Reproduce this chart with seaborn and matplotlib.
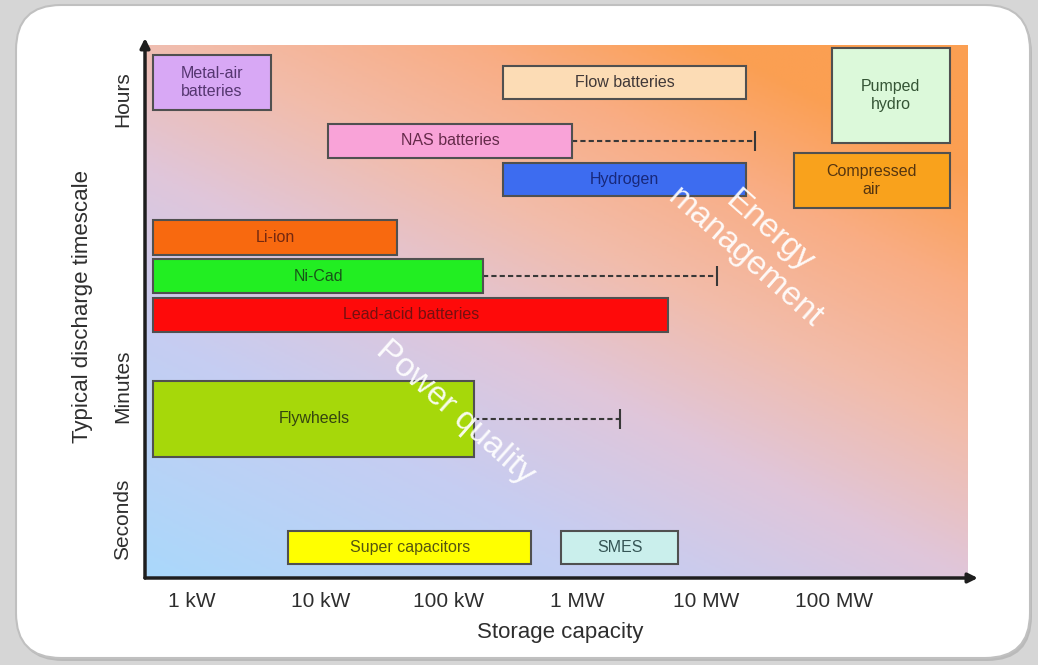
import numpy as np
import pandas as pd
import seaborn as sns
import matplotlib
matplotlib.use('Agg')
import matplotlib.pyplot as plt
from matplotlib.colors import LinearSegmentedColormap
from matplotlib.patches import FancyBboxPatch

# storage technologies: capacity range (kW) and typical discharge timescale (0 = fast, 100 = hours)
technologies = ['Metal-air\nbatteries', 'Flow batteries', 'Pumped\nhydro', 'NAS batteries', 'Hydrogen',
                'Compressed\nair', 'Li-ion', 'Ni-Cad', 'Lead-acid batteries', 'Flywheels',
                'Super capacitors', 'SMES']
cap_low_kw = [0.5, 263, 95000, 11.4, 263, 48000, 0.5, 0.5, 0.5, 0.5, 5.6, 745]
cap_high_kw = [4.1, 20500, 790000, 910, 20500, 790000, 39, 184, 5050, 157, 435, 6050]
time_low = [87.8, 89.9, 81.6, 78.8, 71.7, 69.4, 60.6, 53.5, 46.2, 22.7, 2.6, 2.6]
time_high = [98.1, 96.1, 99.4, 85.2, 77.9, 79.7, 67.2, 59.8, 52.5, 37.0, 8.8, 8.8]

# dashed extensions (possible larger capacity)
ext_tech = ['NAS batteries', 'Ni-Cad', 'Flywheels']
ext_to_kw = [24000, 12200, 2140]

x_ticks_kw = [1, 10, 100, 1e3, 1e4, 1e5]
x_tick_labels = ['1 kW', '10 kW', '100 kW', '1 MW', '10 MW', '100 MW']
y_ticks = [89.9, 36.0, 11.1]
y_tick_labels = ['Hours', 'Minutes', 'Seconds']

face_colors = {
    'Metal-air\nbatteries': '#d8a8f5', 'Flow batteries': '#fcdcb5', 'Pumped\nhydro': '#dcf9da',
    'NAS batteries': '#f9a3d8', 'Hydrogen': '#3d6cf0', 'Compressed\nair': '#f9a21c',
    'Li-ion': '#f8690f', 'Ni-Cad': '#22ee22', 'Lead-acid batteries': '#fe0a0a',
    'Flywheels': '#a6d80a', 'Super capacitors': '#ffff00', 'SMES': '#caefec',
}
text_colors = {
    'Metal-air\nbatteries': '#553670', 'Flow batteries': '#403838', 'Pumped\nhydro': '#355535',
    'NAS batteries': '#652a4a', 'Hydrogen': '#18287a', 'Compressed\nair': '#553510',
    'Li-ion': '#742810', 'Ni-Cad': '#185518', 'Lead-acid batteries': '#741010',
    'Flywheels': '#354510', 'Super capacitors': '#555510', 'SMES': '#355555',
}

df = pd.DataFrame({'tech': technologies, 'lo': cap_low_kw, 'hi': cap_high_kw,
                   'tlo': time_low, 'thi': time_high})
df['tmid'] = (df['tlo'] + df['thi']) / 2

sns.set_theme(style='white')
plt.rcParams['font.family'] = ['Liberation Sans', 'DejaVu Sans']

W, H = 1038, 665
fig = plt.figure(figsize=(W / 100, H / 100), dpi=100)
fig.patch.set_facecolor('#d6d6d6')

# slide-like rounded white panel
bg = fig.add_axes([0, 0, 1, 1], zorder=-2)
bg.set_xlim(0, W)
bg.set_ylim(0, H)
bg.axis('off')
bg.add_patch(FancyBboxPatch((18, 4), 1014, 653, boxstyle='round,pad=0,rounding_size=45',
                            facecolor='#a8a8a8', edgecolor='none', alpha=0.6))
bg.add_patch(FancyBboxPatch((16, 7), 1014, 653, boxstyle='round,pad=0,rounding_size=45',
                            facecolor='white', edgecolor='#c0c0c0', lw=1.5))

rect = [145 / W, 87 / H, 823 / W, 533 / H]

# gradient background of the plot area
grad_ax = fig.add_axes(rect, zorder=-1)
grad_ax.axis('off')
u, v = np.meshgrid(np.linspace(0, 1, 300), np.linspace(0, 1, 200))
t = np.clip(0.5 * u + 0.65 * v, 0, 1)
cmap = LinearSegmentedColormap.from_list('bg', [(0, '#aad8fb'), (0.3, '#c6cdf2'), (0.5, '#e0c6da'),
                                                (0.68, '#f2bcaa'), (0.85, '#f9ad84'), (1, '#fb9f52')])
grad_ax.imshow(cmap(t), extent=[0, 1, 0, 1], origin='lower', aspect='auto')

ax = fig.add_axes(rect)
ax.set_facecolor('none')
ax.set_xscale('log')
ax.set_xlim(0.43, 1.094e6)
ax.set_ylim(0, 100)

for _, r in df.iterrows():
    ax.barh(r['tmid'], r['hi'] - r['lo'], left=r['lo'], height=r['thi'] - r['tlo'],
            color=face_colors[r['tech']], edgecolor='#505050', lw=1.5, zorder=3)
    ax.text(np.sqrt(r['lo'] * r['hi']), r['tmid'], r['tech'], ha='center', va='center',
            fontsize=11.5, color=text_colors[r['tech']], zorder=4, linespacing=1.3)

ext = df.set_index('tech').loc[ext_tech]
for (tech, r), x_end in zip(ext.iterrows(), ext_to_kw):
    sns.lineplot(x=[r['hi'], x_end], y=[r['tmid'], r['tmid']], ax=ax, color='#383838',
                 lw=1.5, linestyle=(0, (2.5, 1.5)), zorder=2)
    ax.plot([x_end], [r['tmid']], marker='|', ms=15, mew=1.5, color='#383838', zorder=2)

ax.text(25000, 62.5, 'Energy\nmanagement', rotation=-41.5, rotation_mode='anchor',
        ha='center', va='center', fontsize=24, color='white', alpha=0.92, zorder=5)
ax.text(112, 31.1, 'Power quality', rotation=-41.5, rotation_mode='anchor',
        ha='center', va='center', fontsize=24, color='white', alpha=0.92, zorder=5)

ax.set_xticks(x_ticks_kw, x_tick_labels, fontsize=15, color='#2e2e2e')
ax.minorticks_off()
ax.set_yticks(y_ticks, y_tick_labels, fontsize=15, color='#2e2e2e', rotation=90, va='center')
ax.tick_params(length=0)
ax.tick_params(axis='x', pad=10)
ax.tick_params(axis='y', pad=9)

ax.set_xlabel('Storage capacity', fontsize=16, color='#2e2e2e', va='center')
ax.xaxis.set_label_coords(0.504, -0.103)
ax.set_ylabel('Typical discharge timescale', fontsize=16, color='#2e2e2e', va='center')
ax.yaxis.set_label_coords(-0.076, 0.51)

for s in ax.spines.values():
    s.set_visible(False)
arrow = dict(arrowstyle='-|>', color='#1e1e1e', lw=2.5, mutation_scale=14, shrinkA=0, shrinkB=0)
ax.annotate('', xy=(0, 1.013), xytext=(0, 0), xycoords='axes fraction', arrowprops=arrow,
            annotation_clip=False)
ax.annotate('', xy=(1.012, 0), xytext=(0, 0), xycoords='axes fraction', arrowprops=arrow,
            annotation_clip=False)

fig.savefig('out.png', dpi=100, facecolor=fig.get_facecolor())
